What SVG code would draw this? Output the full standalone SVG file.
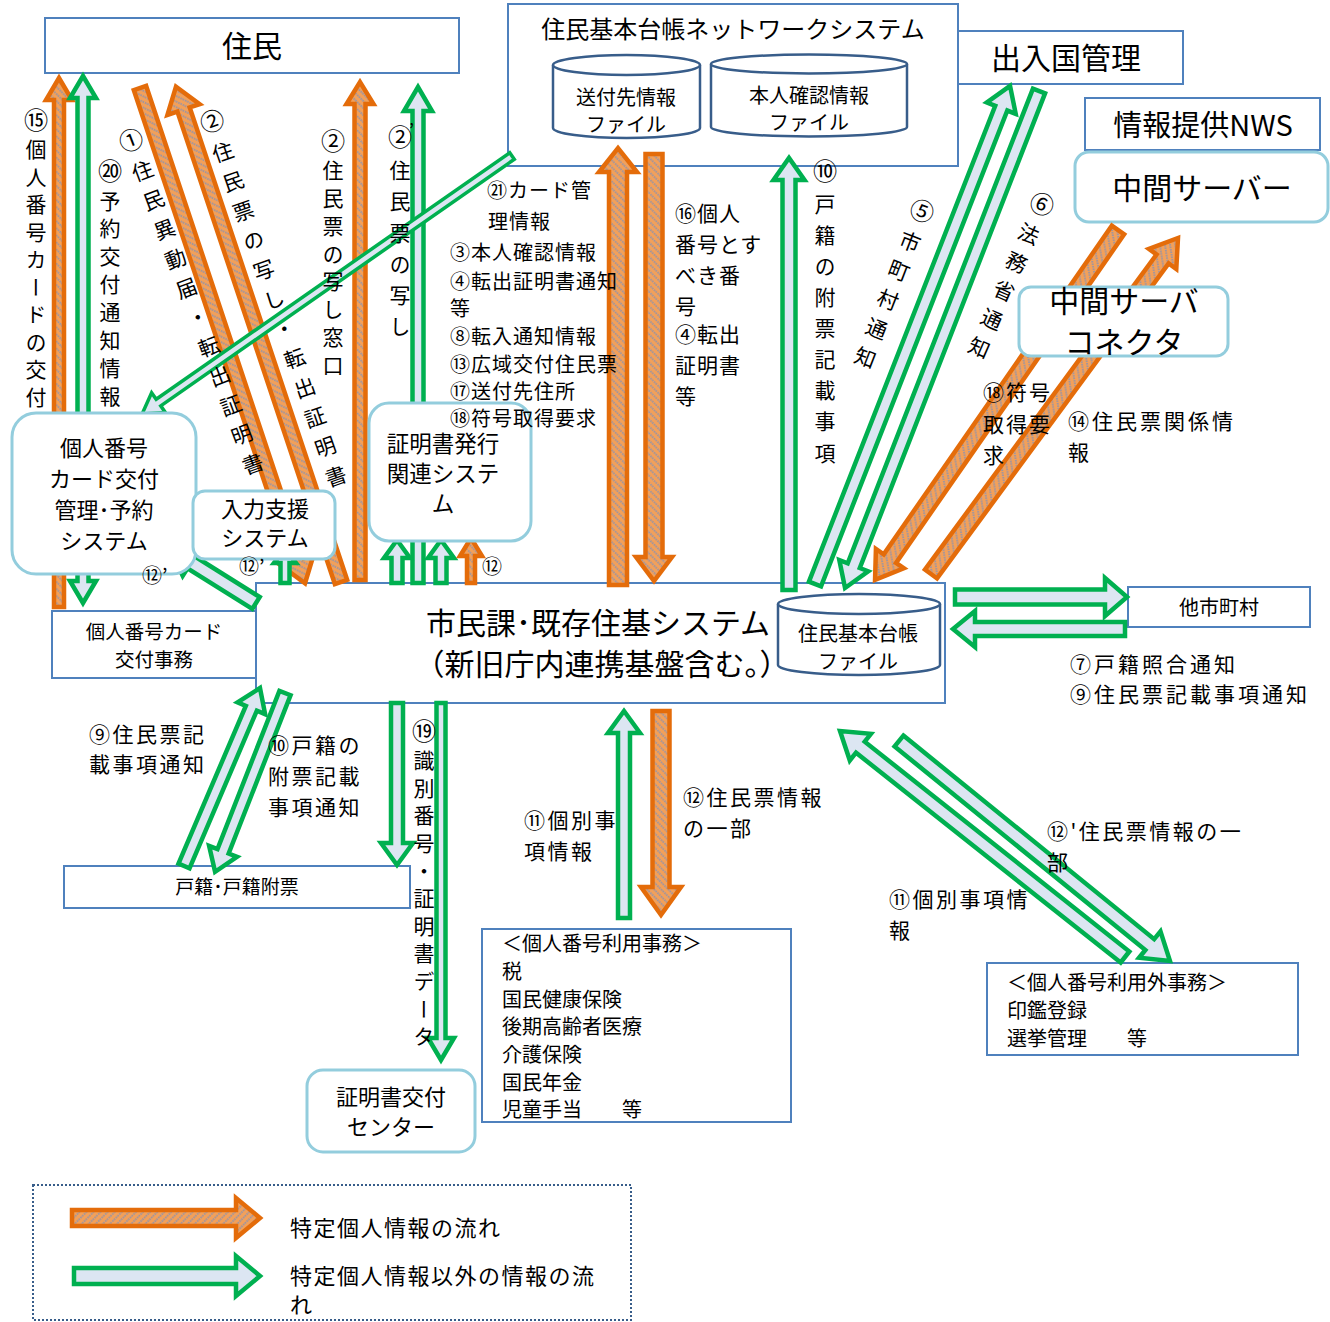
<svg xmlns="http://www.w3.org/2000/svg" width="1330" height="1322" viewBox="0 0 1330 1322">
<style>
.b{fill:#fff;stroke:#4F81BD;stroke-width:2}
.r{fill:#fff;stroke:#93CDDD;stroke-width:3}
.cy{fill:#fff;stroke:#385D8A;stroke-width:2.5}
.oa{fill:url(#hatch);stroke:#E46C0A;stroke-width:4.5}
.ga{fill:#DCE6F2;stroke:#00B050;stroke-width:4.5}
.t{font-family:"Noto Sans CJK JP","Noto Sans",sans-serif;fill:#000}
.m{text-anchor:middle}
.v{writing-mode:vertical-rl}
.c{font-size:115%}
</style>
<defs>
<pattern id="hatch" patternUnits="userSpaceOnUse" width="5" height="5" patternTransform="rotate(45)">
<rect width="5" height="5" fill="#F2A05A"/>
<line x1="1" y1="0" x2="1" y2="5" stroke="#6F8FC8" stroke-width="1.3" stroke-dasharray="1.5 1"/>
</pattern>
</defs>
<rect width="1330" height="1322" fill="#fff"/>

<g id="nodes-back">
<g id="jumin"><rect class="b" x="45" y="18" width="414" height="55"/><text class="t m" x="252" y="57" font-size="30">住民</text></g>
<g id="juki-net"><rect class="b" x="508" y="4" width="450" height="162"/>
<text class="t m" x="733" y="38" font-size="24">住民基本台帳ネットワークシステム</text>
<path class="cy" d="M553,65V128A73.5,10 0 0 0 700,128V65"/><ellipse class="cy" cx="626.5" cy="65" rx="73.5" ry="10"/>
<text class="t m" x="626" y="104.5" font-size="20">送付先情報</text><text class="t m" x="626" y="131.5" font-size="20">ファイル</text>
<path class="cy" d="M711,64V127A98,9.5 0 0 0 907,127V64"/><ellipse class="cy" cx="809" cy="64" rx="98" ry="9.5"/>
<text class="t m" x="809" y="102.5" font-size="20">本人確認情報</text><text class="t m" x="809" y="129.5" font-size="20">ファイル</text>
</g>
<g id="nyukoku"><rect class="b" x="958" y="31" width="225" height="53"/><text class="t m" x="1066" y="69" font-size="30">出入国管理</text></g>
<g id="nws"><rect class="b" x="1085" y="98" width="235" height="52"/><text class="t m" x="1203" y="136" font-size="29">情報提供NWS</text></g>
<g id="chukan-server"><rect class="r" x="1075" y="152" width="253" height="70" rx="14"/><text class="t m" x="1202" y="199" font-size="30">中間サーバー</text></g>
<g id="main-system"><rect class="b" x="256" y="583" width="689" height="120"/>
<text class="t m" x="598" y="634" font-size="30">市民課･既存住基システム</text>
<text class="t m" x="602" y="675" font-size="30">（新旧庁内連携基盤含む。）</text>
<path class="cy" d="M778,604V665A81,10 0 0 0 940,665V604"/><ellipse class="cy" cx="859" cy="604" rx="81" ry="10"/>
<text class="t m" x="858" y="640.5" font-size="20">住民基本台帳</text><text class="t m" x="858" y="668.5" font-size="20">ファイル</text>
</g>
<g id="ta-shichoson"><rect class="b" x="1128" y="587" width="182" height="40"/><text class="t m" x="1219" y="614.5" font-size="20">他市町村</text></g>
<g id="card-jimu"><rect class="b" x="52" y="611" width="204" height="67"/><text class="t m" x="154" y="638.5" font-size="19.5">個人番号カード</text><text class="t m" x="154" y="666.5" font-size="19.5">交付事務</text></g>
<g id="koseki"><rect class="b" x="64" y="866" width="346" height="42"/><text class="t m" x="237" y="894" font-size="19">戸籍･戸籍附票</text></g>
<g id="center"><rect class="r" x="307" y="1070" width="168" height="82" rx="16"/><text class="t m" x="391" y="1105" font-size="22">証明書交付</text><text class="t m" x="391" y="1135" font-size="22">センター</text></g>
<g id="riyo-jimu"><rect class="b" x="482" y="929" width="309" height="193"/>
<g class="t" font-size="20"><text x="502" y="950.5">＜個人番号利用事務＞</text><text x="502" y="978.5">税</text><text x="502" y="1006.5">国民健康保険</text><text x="502" y="1033.5">後期高齢者医療</text><text x="502" y="1061.5">介護保険</text><text x="502" y="1089.5">国民年金</text><text x="502" y="1116.5">児童手当　　等</text></g>
</g>
<g id="riyogai-jimu"><rect class="b" x="987" y="963" width="311" height="92"/>
<g class="t" font-size="20"><text x="1007" y="989.5">＜個人番号利用外事務＞</text><text x="1007" y="1017.5">印鑑登録</text><text x="1007" y="1045.5">選挙管理　　等</text></g>
</g>
</g>

<g id="connectors">
<path class="oa" transform="translate(59,607) rotate(-90)" d="M0,-5H507V-13L529,0L507,13V5H0Z"/>
<path class="ga" transform="translate(83,500) rotate(-90)" d="M0,-5.5H402V-13L424,0L402,13V5.5H0Z"/>
<path class="ga" transform="translate(83,480) rotate(90)" d="M0,-5.5H101V-13L123,0L101,13V5.5H0Z"/>
<path class="oa" transform="translate(140,88) rotate(71.57)" d="M0,-6.5H498V-17L522,0L498,17V6.5H0Z"/>
<path class="oa" transform="translate(341,582) rotate(-108.43)" d="M0,-6.5H498V-17L522,0L498,17V6.5H0Z"/>
<path class="oa" transform="translate(360,580) rotate(-90)" d="M0,-5.5H476V-13.5L498,0L476,13.5V5.5H0Z"/>
<path class="ga" transform="translate(418,583) rotate(-90)" d="M0,-5.5H472V-14L496,0L472,14V5.5H0Z"/>
<path class="ga" style="stroke-width:3.5" transform="translate(512,156) rotate(145.11)" d="M0,-4H431V-12L451,0L431,12V4H0Z"/>
<path class="ga" transform="translate(256,603) rotate(-147.9)" d="M0,-7H76.5V-16L101.5,0L76.5,16V7H0Z"/>
<path class="ga" transform="translate(285,583) rotate(-90)" d="M0,-4.5H20V-11L34,0L20,11V4.5H0Z"/>
<path class="ga" transform="translate(397,583) rotate(-90)" d="M0,-5.5H25V-13L43,0L25,13V5.5H0Z"/>
<path class="ga" transform="translate(441,583) rotate(-90)" d="M0,-5.5H25V-13L43,0L25,13V5.5H0Z"/>
<path class="oa" transform="translate(471,583) rotate(-90)" d="M0,-4H27V-11L45,0L27,11V4H0Z"/>
<path class="oa" transform="translate(618,585) rotate(-90)" d="M0,-9H413V-19L437,0L413,19V9H0Z"/>
<path class="oa" transform="translate(654,154) rotate(90)" d="M0,-8.5H403V-18L427,0L403,18V8.5H0Z"/>
<path class="ga" transform="translate(789,590) rotate(-90)" d="M0,-6.5H410V-15.5L432,0L410,15.5V6.5H0Z"/>
<path class="ga" transform="translate(815,584) rotate(-68.62)" d="M0,-6.5H511V-15.5L535,0L511,15.5V6.5H0Z"/>
<path class="ga" transform="translate(1039,91) rotate(111.32)" d="M0,-6.5H509.5V-15.5L533.5,0L509.5,15.5V6.5H0Z"/>
<path class="oa" transform="translate(1118,230) rotate(124.77)" d="M0,-7.5H400V-17L426,0L400,17V7.5H0Z"/>
<path class="oa" transform="translate(931,574) rotate(-53.68)" d="M0,-7.5H391V-17L417,0L391,17V7.5H0Z"/>
<path class="ga" transform="translate(955,597)" d="M0,-7.5H150V-19L172,0L150,19V7.5H0Z"/>
<path class="ga" transform="translate(1125,629) rotate(180)" d="M0,-7H150V-18L172,0L150,18V7H0Z"/>
<path class="ga" transform="translate(184,866) rotate(-66.88)" d="M0,-6H171.5V-15L193.5,0L171.5,15V6H0Z"/>
<path class="ga" transform="translate(285,693) rotate(111.36)" d="M0,-6H170V-15L192,0L170,15V6H0Z"/>
<path class="ga" transform="translate(397,703) rotate(90)" d="M0,-6H140V-16L162,0L140,16V6H0Z"/>
<path class="ga" transform="translate(441,703) rotate(90)" d="M0,-4.5H335V-13L357,0L335,13V4.5H0Z"/>
<path class="ga" transform="translate(624,918) rotate(-90)" d="M0,-6H185V-16L207,0L185,16V6H0Z"/>
<path class="oa" transform="translate(661,711) rotate(90)" d="M0,-8.5H176V-20L204,0L176,20V8.5H0Z"/>
<path class="ga" transform="translate(1125,957) rotate(-141.59)" d="M0,-7H337.7V-17L363.7,0L337.7,17V7H0Z"/>
<path class="ga" transform="translate(899,741) rotate(39.07)" d="M0,-7H323V-17L349,0L323,17V7H0Z"/>
</g>

<g id="nodes-front">
<g id="card-system"><rect class="r" x="12" y="413" width="184" height="161" rx="24"/>
<g class="t m" font-size="22"><text x="104" y="456">個人番号</text><text x="104" y="487">カード交付</text><text x="104" y="518">管理･予約</text><text x="104" y="549">システム</text></g></g>
<g id="nyuryoku"><rect class="r" x="193" y="491" width="142" height="68" rx="12"/>
<g class="t m" font-size="22"><text x="265" y="517">入力支援</text><text x="265" y="546">システム</text></g></g>
<g id="shomei-system"><rect class="r" x="369" y="403" width="162" height="138" rx="20"/>
<g class="t m" font-size="22.5"><text x="443" y="452">証明書発行</text><text x="443" y="482">関連システ</text><text x="443" y="512">ム</text></g></g>
<g id="connector-box"><rect class="r" x="1019" y="287" width="209" height="69" rx="12"/>
<g class="t m" font-size="30"><text x="1124" y="312">中間サーバ</text><text x="1124" y="353">コネクタ</text></g></g>
</g>

<g id="labels" class="t">
<text class="v" x="36" y="108" font-size="21" style="letter-spacing:6.5px"><tspan class="c">⑮</tspan>個人番号カードの交付</text>
<text class="v" x="110" y="159" font-size="21" style="letter-spacing:6.9px"><tspan class="c">⑳</tspan>予約交付通知情報</text>
<text class="v" x="333" y="129" font-size="21" style="letter-spacing:6.75px"><tspan class="c">②</tspan>住民票の写し窓口</text>
<text class="v" x="400" y="125" font-size="21" style="letter-spacing:10.3px"><tspan class="c">②</tspan>住民票の写し</text>
<text x="409" y="137" font-size="18">’</text>
<text class="v" x="825" y="159" font-size="21" style="letter-spacing:10.1px"><tspan class="c">⑩</tspan>戸籍の附票記載事項</text>
<text class="v" x="424" y="719" font-size="21" style="letter-spacing:6.6px"><tspan class="c">⑲</tspan>識別番号・証明書データ</text>
<text class="v" transform="translate(131,140) rotate(-20.6)" x="0" y="-12" font-size="21" style="letter-spacing:10.3px"><tspan class="c">①</tspan>住民異動届・転出証明書</text>
<text class="v" transform="translate(212,121) rotate(-19.2)" x="0" y="-12" font-size="21" style="letter-spacing:10.2px"><tspan class="c">②</tspan>住民票の写し・転出証明書</text>
<text class="v" transform="translate(922,211) rotate(21.1)" x="0" y="-12" font-size="21" style="letter-spacing:10.1px"><tspan class="c">⑤</tspan>市町村通知</text>
<text class="v" transform="translate(1042,204) rotate(23.6)" x="0" y="-12" font-size="21" style="letter-spacing:10px"><tspan class="c">⑥</tspan>法務省通知</text>

<g font-size="20" style="letter-spacing:1px">
<text x="487" y="197.5">㉑カード管</text><text x="488" y="228.5">理情報</text>
<text x="450" y="259.5">③本人確認情報</text><text x="450" y="288.5">④転出証明書通知</text><text x="450" y="315.5">等</text>
<text x="450" y="343.5">⑧転入通知情報</text><text x="450" y="371.5">⑬広域交付住民票</text><text x="450" y="398.5">⑰送付先住所</text><text x="450" y="425.5">⑱符号取得要求</text>
</g>
<g font-size="21" style="letter-spacing:1px">
<text x="675" y="221">⑯個人</text><text x="675" y="252">番号とす</text><text x="675" y="283">べき番</text><text x="675" y="314">号</text>
<text x="675" y="342">④転出</text><text x="675" y="373">証明書</text><text x="675" y="404">等</text>
</g>
<g font-size="21" style="letter-spacing:2px">
<text x="983" y="400">⑱符号</text><text x="983" y="432">取得要</text><text x="983" y="463">求</text>
</g>
<g font-size="21" style="letter-spacing:3px">
<text x="1068" y="429">⑭住民票関係情</text><text x="1068" y="460">報</text>
<text x="1070" y="672">⑦戸籍照合通知</text><text x="1070" y="702">⑨住民票記載事項通知</text>
</g>
<g font-size="21" style="letter-spacing:2.5px">
<text x="89" y="742">⑨住民票記</text><text x="89" y="772">載事項通知</text>
<text x="268" y="753">⑩戸籍の</text><text x="268" y="784">附票記載</text><text x="268" y="815">事項通知</text>
<text x="524" y="828">⑪個別事</text><text x="524" y="859">項情報</text>
<text x="683" y="805">⑫住民票情報</text><text x="683" y="836">の一部</text>
<text x="1047" y="839">⑫'住民票情報の一</text><text x="1047" y="870">部</text>
<text x="889" y="907">⑪個別事項情</text><text x="889" y="938">報</text>
</g>
<g font-size="20">
<text x="142" y="583">⑫’</text><text x="239" y="574">⑫’</text><text x="482" y="574">⑫</text>
</g>
</g>

<g id="legend">
<rect x="33" y="1185" width="598" height="135" fill="none" stroke="#385D8A" stroke-width="2" stroke-dasharray="2 2"/>
<path class="oa" transform="translate(72,1218)" d="M0,-8H164V-20L188,0L164,20V8H0Z"/>
<path class="ga" transform="translate(74,1276)" d="M0,-8H162V-20L186,0L162,20V8H0Z"/>
<g class="t" font-size="22" style="letter-spacing:1.5px">
<text x="290" y="1236">特定個人情報の流れ</text>
<text x="290" y="1284">特定個人情報以外の情報の流</text>
<text x="290" y="1313">れ</text>
</g>
</g>
</svg>
